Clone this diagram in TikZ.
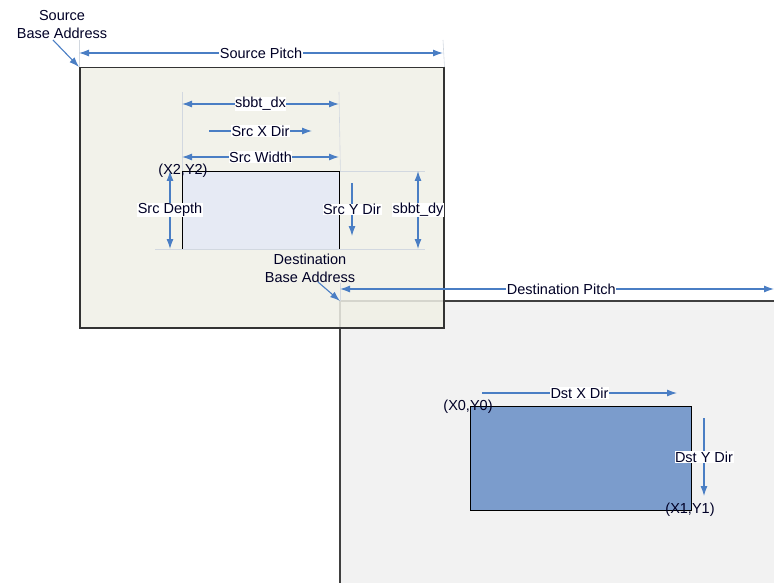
\documentclass[tikz,border=0pt]{standalone}
\usepackage{fontspec}
\setmainfont{Liberation Sans}
\usetikzlibrary{arrows.meta}

\definecolor{arrowblue}{HTML}{4A7EC4}
\definecolor{extgray}{HTML}{D2D8E0}
\definecolor{srcfill}{HTML}{F0F0E6}
\definecolor{dstfill}{HTML}{F2F2F2}
\definecolor{innerfill}{HTML}{E6EAF4}
\definecolor{rectfill}{HTML}{7B9CCC}

\tikzset{
  dim/.style={draw=arrowblue,line width=1.1pt,{Latex[length=10pt,width=7pt]}-{Latex[length=10pt,width=7pt]}},
  dirarrow/.style={draw=arrowblue,line width=1.1pt,-{Latex[length=10pt,width=7pt]}},
  lbl/.style={fill=white,inner sep=0.5pt,text=black!85!blue,font=\fontsize{14.5}{16}\selectfont},
  txt/.style={inner sep=0pt,align=center,text=black!85!blue,font=\fontsize{14.5}{18}\selectfont},
  ext/.style={draw=extgray,line width=0.6pt},
}

\begin{document}
\begin{tikzpicture}[x=1pt,y=-1pt]
		\useasboundingbox (0,0) rectangle (774,583);
		\clip (0,0) rectangle (774,583);

		% Destination surface
		\coordinate (dstNW) at (340,301);
		\draw[fill=dstfill,draw=black!75,line width=1.4pt] (dstNW) rectangle (800,600);

		% Source surface (on top)
		\node[draw=black!80,line width=1.5pt,fill=srcfill,fill opacity=0.85,draw opacity=1,
		  minimum width=364pt,minimum height=260pt,anchor=north west,inner sep=0pt] (Src) at (79,67) {};
		\node[draw=black,line width=1.4pt,fill=innerfill,
		  minimum width=157pt,minimum height=78pt,anchor=north west,inner sep=0pt] (Inner) at (182,171) {};
		\node[draw=black,line width=1.4pt,fill=rectfill,
		  minimum width=221pt,minimum height=104pt,anchor=north west,inner sep=0pt] (DstRect) at (470,406) {};

		% extension lines
		\coordinate (e1) at (79,40);   \coordinate (e2) at (443,40);
		\coordinate (e3) at (182,92);  \coordinate (e4) at (339,92);
		\coordinate (e5) at (425,171); \coordinate (e6) at (155,249);
		\coordinate (e7) at (425,249); \coordinate (e8) at (340,283);
		\draw[ext] (e1) -- (Src.north west);
		\draw[ext] (e2) -- (Src.north east);
		\draw[ext] (e3) -- (Inner.north west);
		\draw[ext] (e4) -- (Inner.north east);
		\draw[ext] (Inner.north east) -- (e5);
		\draw[ext] (e6) -- (e7);
		\draw[ext] (e8) -- (dstNW);

		% dimensions
		\coordinate (sp1) at (79,53);   \coordinate (sp2) at (443,53);
		\draw[dim] (sp1) -- node[lbl] {Source Pitch} (sp2);
		\coordinate (dx1) at (182,104); \coordinate (dx2) at (339,104);
		\draw[dim] (dx1) -- node[lbl] {sbbt\_dx} (dx2);
		\coordinate (sx1) at (209,131); \coordinate (sx2) at (312,131);
		\draw[dirarrow] (sx1) -- node[lbl] {Src X Dir} (sx2);
		\coordinate (sw1) at (182,157); \coordinate (sw2) at (339,157);
		\draw[dim] (sw1) -- node[lbl] {Src Width} (sw2);
		\coordinate (sd1) at (170,171); \coordinate (sd2) at (170,249);
		\draw[dim] (sd1) -- node[lbl] {Src Depth} (sd2);
		\coordinate (sy1) at (352,183); \coordinate (sy2) at (352,236);
		\draw[dirarrow] (sy1) -- node[lbl] {Src Y Dir} (sy2);
		\coordinate (dy1) at (418,171); \coordinate (dy2) at (418,249);
		\draw[dim] (dy1) -- node[lbl] {sbbt\_dy} (dy2);

		\coordinate (dp2) at (774,289); \coordinate (dp1) at (340,289);
		\draw[dim] (dp1) -- node[lbl,pos=0.51] {Destination Pitch} (dp2);
		\coordinate (xd1) at (482,393); \coordinate (xd2) at (677,393);
		\draw[dirarrow] (xd1) -- node[lbl,pos=0.5] {Dst X Dir} (xd2);
		\coordinate (yd1) at (704,418); \coordinate (yd2) at (704,496);
		\draw[dirarrow] (yd1) -- node[lbl,pos=0.5] {Dst Y Dir} (yd2);

		% base addresses
		\node[txt] (SrcBase) at (62,25) {Source\\Base Address};
		\coordinate (sb) at (53,40);
		\draw[dirarrow] (sb) -- (Src.north west);
		\node[txt] (DstBase) at (310,268) {Destination\\Base Address};
		\coordinate (db) at (318,282);
		\draw[dirarrow] (db) -- (dstNW);

		% corner labels
		\node[txt] (XY2) at (183,171) {(X2,Y2)};
		\node[txt] (XY0) at (468,407) {(X0,Y0)};
		\node[txt] (XY1) at (690,510) {(X1,Y1)};
\end{tikzpicture}
\end{document}
